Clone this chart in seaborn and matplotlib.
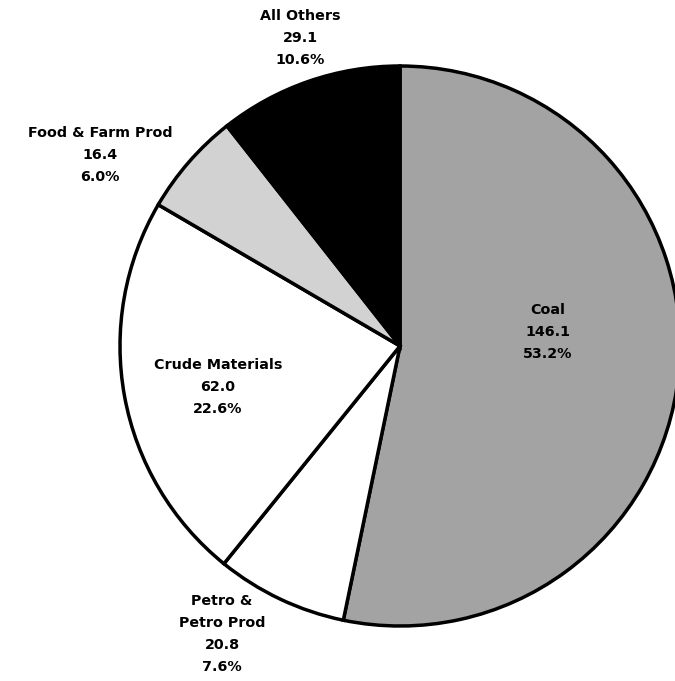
import matplotlib.pyplot as plt
import seaborn as sns

# Data
categories = ['Coal', 'Petro &\nPetro Prod', 'Crude Materials', 'Food & Farm Prod', 'All Others']
values = [146.1, 20.8, 62.0, 16.4, 29.1]
percents = ['53.2%', '7.6%', '22.6%', '6.0%', '10.6%']
colors = ['#a3a3a3', '#ffffff', '#ffffff', '#d2d2d2', '#000000']

sns.set_style('white')
plt.rcParams['font.family'] = ['DejaVu Sans']

fig = plt.figure(figsize=(6.75, 6.81), dpi=100)
ax = fig.add_axes([0, 0, 1, 1])

# pie in pixel-like coordinates, y up
cx, cy, r = 400, 681 - 346, 280
ax.pie(values, colors=colors, startangle=90, counterclock=False,
       radius=r, center=(cx, cy),
       wedgeprops={'edgecolor': 'black', 'linewidth': 2.5})

# label positions (image coords, centre of text block)
label_pos = [(548, 332), (222, 634), (218, 387), (100, 155), (300, 38)]
for name, val, pct, (x, y) in zip(categories, values, percents, label_pos):
    ax.text(x, 681 - y, f'{name}\n{val:.1f}\n{pct}', ha='center', va='center',
            fontsize=10.3, fontweight='bold', linespacing=1.72, color='black')

ax.set_xlim(0, 675)
ax.set_ylim(0, 681)
ax.set_aspect('equal')
ax.axis('off')

plt.savefig('out.png', dpi=100)
